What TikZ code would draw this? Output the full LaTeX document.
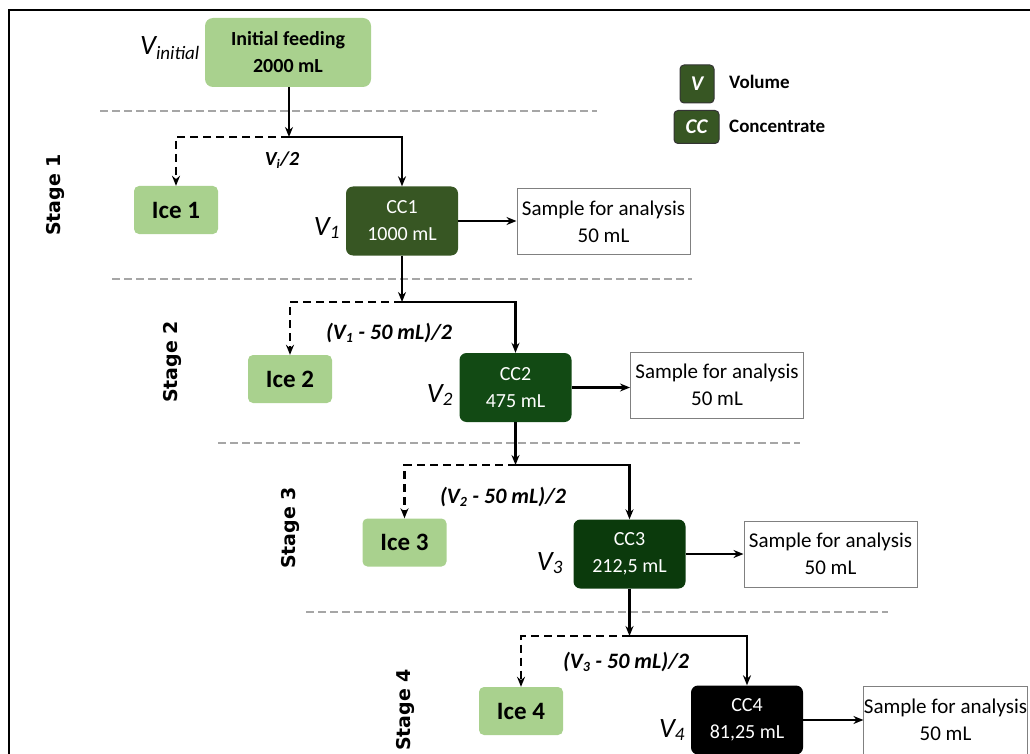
\documentclass[tikz,border=0pt]{standalone}
\usepackage{fontspec}
\setmainfont{Carlito}
\newfontfamily\stagefont{DejaVu Sans}
\usetikzlibrary{arrows.meta}
\definecolor{lightg}{HTML}{A9D18E}
\definecolor{cca}{HTML}{375623}
\definecolor{ccb}{HTML}{124A14}
\definecolor{ccc}{HTML}{0B3A0C}
\definecolor{sepgray}{HTML}{A6A6A6}
\tikzset{
  icebox/.style={fill=lightg, rounded corners=5pt, minimum width=84pt, minimum height=48pt, font=\fontsize{25}{28}\selectfont\bfseries, inner sep=0pt},
  ccbox/.style={rounded corners=7pt, minimum width=112pt, minimum height=69pt, text=white, font=\fontsize{20}{27}\selectfont, align=center, inner sep=0pt},
  samplebox/.style={draw=black!50, line width=1pt, minimum width=173pt, minimum height=66pt, font=\fontsize{21}{27}\selectfont, align=center, inner sep=0pt},
  vlab/.style={font=\fontsize{28}{30}\selectfont\itshape, inner sep=0pt},
  flowlab/.style={font=\fontsize{22}{24}\selectfont\itshape\bfseries, inner sep=0pt},
  stagelab/.style={rotate=90, font=\fontsize{19}{22}\selectfont\stagefont\bfseries, inner sep=0pt},
  arr/.style={line width=2.4pt, -{Stealth[length=10pt,width=8pt]}},
  darr/.style={arr, dash pattern=on 8pt off 5pt},
  sep/.style={draw=sepgray, line width=2.5pt, dash pattern=on 8pt off 4pt},
  legbox/.style={fill=cca, draw=black!80, line width=1pt, rounded corners=4pt, text=white, font=\fontsize{21}{23}\selectfont\bfseries\itshape, inner sep=0pt},
  legtext/.style={font=\fontsize{19}{22}\selectfont\bfseries, anchor=west, inner sep=0pt}
}
\begin{document}
\begin{tikzpicture}[x=1pt,y=-1pt]
\useasboundingbox (0,0) rectangle (1030,754);
\clip (0,0) rectangle (1030,754);
% frame
\draw[line width=2.5pt] (9,755) -- (9,10) -- (1031,10);
% separators
\draw[sep] (100,111) -- (597,111);
\draw[sep] (112,279) -- (692,279);
\draw[sep] (218,443) -- (800,443);
\draw[sep] (306,612) -- (888,612);
% initial
\node[fill=lightg, rounded corners=8pt, minimum width=166pt, minimum height=69pt, align=center, font=\fontsize{20}{27}\selectfont\bfseries, inner sep=0pt] (init) at (288,52.5) {Initial feeding\\2000 mL};
\node[vlab] (vinit) at (170,48) {V\textsubscript{\fontsize{19}{20}\selectfont initial}};
% legend
\node[legbox, minimum width=34pt, minimum height=38pt] (legV) at (697,84) {V};
\node[legbox, minimum width=45pt, minimum height=33pt] (legCC) at (696.5,127) {CC};
\node[legtext] (legVt) at (729,82) {Volume};
\node[legtext] (legCCt) at (729,126) {Concentrate};
% stage 1
\node[icebox] (ice1) at (176,210) {Ice 1};
\node[ccbox, fill=cca] (cc1) at (402,221) {CC1\\1000 mL};
\node[samplebox] (s1) at (603.5,221.5) {Sample for analysis\\50 mL};
\node[vlab] (v1) at (327,228) {V\textsubscript{\fontsize{19}{20}\selectfont 1}};
\node[stagelab] (st1) at (55,195) {Stage 1};
\node[flowlab, font=\fontsize{20}{22}\selectfont\itshape\bfseries] (f1) at (282,160) {V\textsubscript{\fontsize{13}{14}\selectfont i}/2};
\coordinate (j1) at (289,137);
\draw[arr] (init.south -| j1) -- (j1);
\draw[arr] (j1) -| (cc1.north);
\draw[darr] (j1) -| (ice1.north);
\draw[arr] (cc1.east) -- (cc1.east -| s1.west);
% stage 2
\node[icebox] (ice2) at (290,379) {Ice 2};
\node[ccbox, fill=ccb] (cc2) at (515.5,387.5) {CC2\\475 mL};
\node[samplebox] (s2) at (717,385) {Sample for analysis\\50 mL};
\node[vlab] (v2) at (440,395) {V\textsubscript{\fontsize{19}{20}\selectfont 2}};
\node[stagelab] (st2) at (172,362) {Stage 2};
\node[flowlab] (f2) at (389,333) {(V\textsubscript{\fontsize{14}{15}\selectfont 1} - 50 mL)/2};
\coordinate (j2) at (402,302);
\draw[arr] (cc1.south) -- (j2);
\draw[arr] (j2) -| (cc2.north);
\draw[darr] (j2) -| (ice2.north);
\draw[arr] (cc2.east) -- (cc2.east -| s2.west);
% stage 3
\node[icebox] (ice3) at (404.5,542.5) {Ice 3};
\node[ccbox, fill=ccc] (cc3) at (629.5,554) {CC3\\212,5 mL};
\node[samplebox] (s3) at (830.5,554) {Sample for analysis\\50 mL};
\node[vlab] (v3) at (550,563) {V\textsubscript{\fontsize{19}{20}\selectfont 3}};
\node[stagelab] (st3) at (290,528) {Stage 3};
\node[flowlab] (f3) at (503,497) {(V\textsubscript{\fontsize{14}{15}\selectfont 2} - 50 mL)/2};
\coordinate (j3) at (515.5,465);
\draw[arr] (cc2.south) -- (j3);
\draw[arr] (j3) -| (cc3.north);
\draw[darr] (j3) -| (ice3.north);
\draw[arr] (cc3.east) -- (cc3.east -| s3.west);
% stage 4
\node[icebox] (ice4) at (521,711) {Ice 4};
\node[ccbox, fill=black] (cc4) at (747,720) {CC4\\81,25 mL};
\node[samplebox, minimum width=163pt, minimum height=68pt] (s4) at (945.5,720) {Sample for analysis\\50 mL};
\node[vlab] (v4) at (672,730) {V\textsubscript{\fontsize{19}{20}\selectfont 4}};
\node[stagelab] (st4) at (405,710) {Stage 4};
\node[flowlab] (f4) at (626,662) {(V\textsubscript{\fontsize{14}{15}\selectfont 3} - 50 mL)/2};
\coordinate (j4) at (629.5,636);
\draw[arr] (cc3.south) -- (j4);
\draw[arr] (j4) -| (cc4.north);
\draw[darr] (j4) -| (ice4.north);
\draw[arr] (cc4.east) -- (cc4.east -| s4.west);
\end{tikzpicture}
\end{document}
